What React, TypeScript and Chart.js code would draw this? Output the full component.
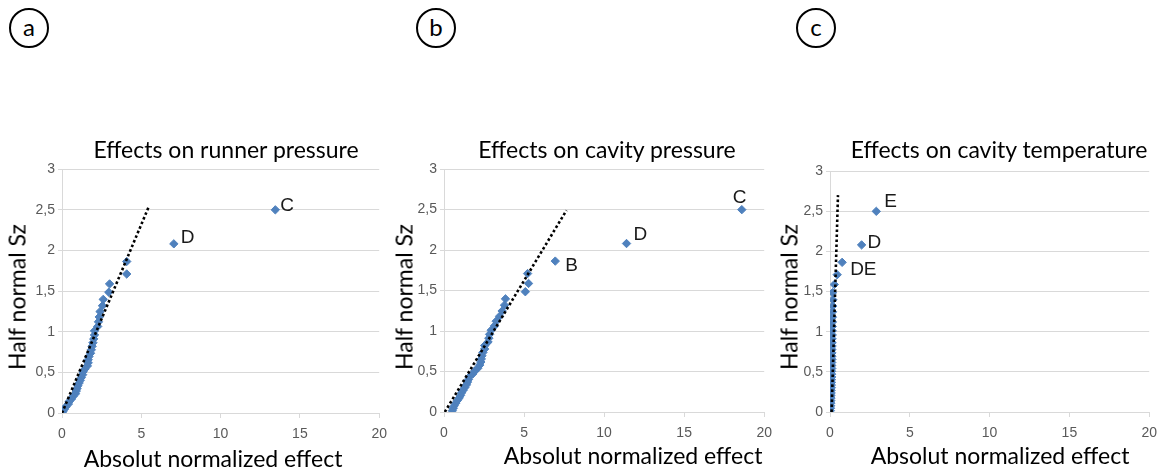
import React, { useEffect, useRef } from 'react';
import { Chart, registerables } from 'chart.js';

Chart.register(...registerables);

// Half-normal quantiles (y axis, shared by all three panels), ascending
const halfNormalSz = [
  0.016, 0.047, 0.078, 0.110, 0.141, 0.173, 0.205, 0.237, 0.270, 0.302,
  0.335, 0.369, 0.402, 0.436, 0.471, 0.507, 0.542, 0.579, 0.617, 0.655,
  0.694, 0.735, 0.777, 0.820, 0.864, 0.911, 0.959, 1.010, 1.064, 1.121,
  1.181, 1.247, 1.319, 1.397, 1.485, 1.587, 1.709, 1.863, 2.080, 2.498,
];

// Absolute normalized effects, panel a (runner pressure)
const runnerPressureEffect = [
  0.05, 0.15, 0.25, 0.4, 0.45, 0.6, 0.7, 0.85, 0.9, 0.95,
  1.0, 1.08, 1.15, 1.22, 1.3, 1.33, 1.45, 1.6, 1.65, 1.65,
  1.7, 1.8, 1.85, 1.9, 1.95, 2.0, 2.05, 2.05, 2.25, 2.3,
  2.35, 2.4, 2.55, 2.6, 2.95, 3.0, 4.08, 4.08, 7.05, 13.45,
];

// Panel b (cavity pressure)
const cavityPressureEffect = [
  0.52, 0.58, 0.64, 0.74, 0.83, 0.95, 1.03, 1.1, 1.2, 1.3,
  1.4, 1.47, 1.53, 1.6, 1.8, 1.92, 2.12, 2.23, 2.3, 2.33,
  2.37, 2.43, 2.54, 2.54, 2.75, 2.8, 2.85, 2.95, 3.16, 3.26,
  3.47, 3.63, 3.78, 3.84, 5.08, 5.28, 5.22, 6.95, 11.4, 18.6,
];

// Panel c (cavity temperature)
const cavityTemperatureEffect = [
  0.02, 0.03, 0.04, 0.05, 0.05, 0.06, 0.06, 0.07, 0.07, 0.08,
  0.08, 0.09, 0.09, 0.1, 0.1, 0.1, 0.11, 0.11, 0.11, 0.12,
  0.12, 0.12, 0.12, 0.13, 0.13, 0.13, 0.14, 0.14, 0.14, 0.15,
  0.15, 0.16, 0.17, 0.18, 0.16, 0.27, 0.45, 0.76, 1.98, 2.9,
];

// Dotted reference lines (start / end)
const runnerLineX = [0, 5.5];
const runnerLineY = [0, 2.55];
const cavityPressureLineX = [0.05, 7.65];
const cavityPressureLineY = [0, 2.49];
const cavityTemperatureLineX = [0.1, 0.5];
const cavityTemperatureLineY = [0, 2.7];

// Point labels (index into the series, text)
const runnerLabelIndex = [38, 39];
const runnerLabelText = ['D', 'C'];
const cavityPressureLabelIndex = [37, 38, 39];
const cavityPressureLabelText = ['B', 'D', 'C'];
const cavityTemperatureLabelIndex = [37, 38, 39];
const cavityTemperatureLabelText = ['DE', 'D', 'E'];

// Axis ticks
const xTickValues = [0, 5, 10, 15, 20];
const yTickValues = [0, 0.5, 1, 1.5, 2, 2.5, 3];

// Texts
const panelLetters = ['a', 'b', 'c'];
const panelTitles = [
  'Effects on runner pressure',
  'Effects on cavity pressure',
  'Effects on cavity temperature',
];
const xAxisTitle = 'Absolut normalized effect';
const yAxisTitle = 'Half normal Sz';

const TITLE_FONT = 'Lato, "Open Sans", sans-serif';
const TICK_FONT = '"Liberation Sans", Arial, sans-serif';

const pointLabelPlugin = {
  id: 'pointLabelsCustom',
  afterDatasetsDraw(chart: any, _args: any, opts: any) {
    const meta = chart.getDatasetMeta(0);
    const ctx = chart.ctx;
    ctx.save();
    ctx.font = '19px ' + TICK_FONT;
    ctx.fillStyle = '#1a1a1a';
    ctx.textBaseline = 'middle';
    ctx.textAlign = 'left';
    (opts.items || []).forEach((it: any) => {
      const p = meta.data[it.index];
      if (!p) return;
      ctx.fillText(it.text, p.x + it.dx, p.y + it.dy);
    });
    ctx.restore();
  },
};

type PanelCfg = {
  canvas: { left: number; top: number; w: number; h: number };
  plot: { l: number; t: number; r: number; b: number };
  xs: number[];
  lineX: number[];
  lineY: number[];
  labelIndex: number[];
  labelText: string[];
  labelOffsets: { dx: number; dy: number }[];
};

const Y_AXIS_W = 40;
const X_AXIS_H = 30;

function Panel({ cfg }: { cfg: PanelCfg }) {
  const ref = useRef<HTMLCanvasElement | null>(null);
  useEffect(() => {
    if (!ref.current) return;
    const { canvas, plot } = cfg;
    const padding = {
      left: plot.l - canvas.left - Y_AXIS_W,
      right: canvas.left + canvas.w - plot.r,
      top: plot.t - canvas.top,
      bottom: canvas.top + canvas.h - plot.b - X_AXIS_H,
    };
    const points = halfNormalSz.map((y, i) => ({ x: cfg.xs[i], y }));
    const line = cfg.lineX.map((x, i) => ({ x, y: cfg.lineY[i] }));
    const items = cfg.labelIndex.map((index, i) => ({
      index,
      text: cfg.labelText[i],
      dx: cfg.labelOffsets[i].dx,
      dy: cfg.labelOffsets[i].dy,
    }));
    const chart = new Chart(ref.current, {
      type: 'scatter',
      data: {
        datasets: [
          {
            data: points,
            pointStyle: 'rectRot',
            pointRadius: 4.2,
            pointBackgroundColor: '#4f81bd',
            pointBorderColor: '#4f81bd',
            pointBorderWidth: 1,
            showLine: false,
            order: 2,
          } as any,
          {
            data: line,
            showLine: true,
            pointRadius: 0,
            borderColor: '#000000',
            borderWidth: 2.6,
            borderDash: [2.6, 2.4],
            borderCapStyle: 'butt',
            fill: false,
            order: 1,
          } as any,
        ],
      },
      options: {
        animation: false,
        responsive: false,
        events: [],
        layout: { padding },
        plugins: {
          legend: { display: false },
          title: { display: false },
          tooltip: { enabled: false },
          pointLabelsCustom: { items },
        } as any,
        scales: {
          x: {
            type: 'linear',
            min: 0,
            max: 20,
            afterBuildTicks: (s: any) => {
              s.ticks = xTickValues.map((v) => ({ value: v }));
            },
            afterFit: (s: any) => {
              s.height = X_AXIS_H;
            },
            grid: {
              display: true,
              drawOnChartArea: false,
              drawTicks: true,
              tickLength: 5,
              color: '#d9d9d9',
            },
            border: { display: true, color: '#d9d9d9', width: 1 },
            ticks: {
              font: { family: TICK_FONT, size: 14 },
              color: '#595959',
              padding: 8,
              maxRotation: 0,
              callback: (v: any) => String(v).replace('.', ','),
            },
          },
          y: {
            type: 'linear',
            min: 0,
            max: 3,
            afterBuildTicks: (s: any) => {
              s.ticks = yTickValues.map((v) => ({ value: v }));
            },
            afterFit: (s: any) => {
              s.width = Y_AXIS_W;
            },
            grid: {
              display: true,
              drawOnChartArea: true,
              drawTicks: true,
              tickLength: 4,
              color: '#d9d9d9',
            },
            border: { display: true, color: '#d9d9d9', width: 1 },
            ticks: {
              font: { family: TICK_FONT, size: 14 },
              color: '#595959',
              padding: 3,
              callback: (v: any) => String(v).replace('.', ','),
            },
          },
        },
      },
      plugins: [pointLabelPlugin],
    });
    return () => chart.destroy();
  }, [cfg]);
  const { canvas } = cfg;
  return (
    <canvas
      ref={ref}
      width={canvas.w}
      height={canvas.h}
      style={{ position: 'absolute', left: canvas.left, top: canvas.top, width: canvas.w, height: canvas.h }}
    />
  );
}

const panelCfgs: PanelCfg[] = [
  {
    canvas: { left: 0, top: 150, w: 395, h: 300 },
    plot: { l: 62, t: 169, r: 382, b: 413 },
    xs: runnerPressureEffect,
    lineX: runnerLineX,
    lineY: runnerLineY,
    labelIndex: runnerLabelIndex,
    labelText: runnerLabelText,
    labelOffsets: [
      { dx: 7, dy: -6 },
      { dx: 5, dy: -4 },
    ],
  },
  {
    canvas: { left: 395, top: 150, w: 385, h: 300 },
    plot: { l: 444, t: 169, r: 767, b: 412 },
    xs: cavityPressureEffect,
    lineX: cavityPressureLineX,
    lineY: cavityPressureLineY,
    labelIndex: cavityPressureLabelIndex,
    labelText: cavityPressureLabelText,
    labelOffsets: [
      { dx: 10, dy: 5 },
      { dx: 7, dy: -9 },
      { dx: -9, dy: -12 },
    ],
  },
  {
    canvas: { left: 780, top: 150, w: 385, h: 300 },
    plot: { l: 830, t: 171, r: 1153, b: 412 },
    xs: cavityTemperatureEffect,
    lineX: cavityTemperatureLineX,
    lineY: cavityTemperatureLineY,
    labelIndex: cavityTemperatureLabelIndex,
    labelText: cavityTemperatureLabelText,
    labelOffsets: [
      { dx: 8, dy: 7 },
      { dx: 6, dy: -2 },
      { dx: 8, dy: -10 },
    ],
  },
];

const circlePos = [
  { x: 29, y: 28 },
  { x: 436, y: 28 },
  { x: 816, y: 28 },
];
const titlePos = [
  { x: 226, y: 149 },
  { x: 607, y: 149 },
  { x: 999, y: 149 },
];
const xTitlePos = [
  { x: 213, y: 458 },
  { x: 633, y: 455 },
  { x: 1000, y: 455 },
];
const yTitlePos = [
  { x: 17, y: 297 },
  { x: 404, y: 297 },
  { x: 789, y: 297 },
];

const centered = (x: number, y: number, extra: React.CSSProperties = {}): React.CSSProperties => ({
  position: 'absolute',
  left: x,
  top: y,
  transform: 'translate(-50%, -50%)' + (extra.transform ? ' ' + extra.transform : ''),
  whiteSpace: 'nowrap',
  lineHeight: 1,
  fontFamily: TITLE_FONT,
  color: '#000',
  ...Object.fromEntries(Object.entries(extra).filter(([k]) => k !== 'transform')),
});

export default function App() {
  return (
    <div
      style={{
        position: 'absolute',
        left: 0,
        top: 0,
        width: 1165,
        height: 470,
        background: '#ffffff',
        overflow: 'hidden',
      }}
    >
      {panelCfgs.map((cfg, i) => (
        <Panel key={i} cfg={cfg} />
      ))}
      {panelLetters.map((l, i) => (
        <div
          key={'c' + i}
          style={{
            position: 'absolute',
            left: circlePos[i].x - 20,
            top: circlePos[i].y - 20,
            width: 40,
            height: 40,
            boxSizing: 'border-box',
            border: '2px solid #000',
            borderRadius: '50%',
            display: 'flex',
            alignItems: 'center',
            justifyContent: 'center',
            fontFamily: TITLE_FONT,
            fontSize: 24,
            lineHeight: 1,
            color: '#000',
          }}
        >
          <span style={{ marginTop: -3 }}>{l}</span>
        </div>
      ))}
      {panelTitles.map((t, i) => (
        <div key={'t' + i} style={centered(titlePos[i].x, titlePos[i].y, { fontSize: 23 })}>
          {t}
        </div>
      ))}
      {panelTitles.map((_, i) => (
        <div key={'x' + i} style={centered(xTitlePos[i].x, xTitlePos[i].y, { fontSize: 23 })}>
          {xAxisTitle}
        </div>
      ))}
      {panelTitles.map((_, i) => (
        <div
          key={'y' + i}
          style={centered(yTitlePos[i].x, yTitlePos[i].y, { fontSize: 23, transform: 'rotate(-90deg)' })}
        >
          {yAxisTitle}
        </div>
      ))}
    </div>
  );
}
